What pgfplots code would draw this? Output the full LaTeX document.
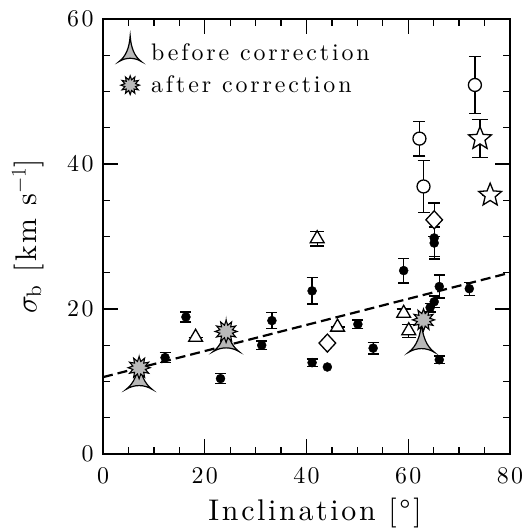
\RequirePackage{fix-cm}
\documentclass[border=0pt]{standalone}
\usepackage{fontspec}
\setmainfont{lmroman10-regular.otf}[ItalicFont=lmroman10-italic.otf, BoldFont=lmroman10-bold.otf]
\usepackage{pgfplots}
\pgfplotsset{compat=1.18}

\pgfdeclareplotmark{tristar}{%
 \pgfpathmoveto{\pgfpoint{0bp}{20bp}}%
 \pgfpathcurveto{\pgfpoint{-1bp}{6bp}}{\pgfpoint{-5bp}{-4bp}}{\pgfpoint{-13bp}{-10bp}}%
 \pgfpathcurveto{\pgfpoint{-5bp}{-5bp}}{\pgfpoint{5bp}{-5bp}}{\pgfpoint{13bp}{-10bp}}%
 \pgfpathcurveto{\pgfpoint{5bp}{-4bp}}{\pgfpoint{1bp}{6bp}}{\pgfpoint{0bp}{20bp}}%
 \pgfpathclose
 \pgfusepathqfillstroke}

\pgfdeclareplotmark{burst}{%
 \pgfpathmoveto{\pgfpointpolar{90}{11bp}}%
 \pgfpathlineto{\pgfpointpolar{105}{6.5bp}}\pgfpathlineto{\pgfpointpolar{120}{11bp}}%
 \pgfpathlineto{\pgfpointpolar{135}{6.5bp}}\pgfpathlineto{\pgfpointpolar{150}{11bp}}%
 \pgfpathlineto{\pgfpointpolar{165}{6.5bp}}\pgfpathlineto{\pgfpointpolar{180}{11bp}}%
 \pgfpathlineto{\pgfpointpolar{195}{6.5bp}}\pgfpathlineto{\pgfpointpolar{210}{11bp}}%
 \pgfpathlineto{\pgfpointpolar{225}{6.5bp}}\pgfpathlineto{\pgfpointpolar{240}{11bp}}%
 \pgfpathlineto{\pgfpointpolar{255}{6.5bp}}\pgfpathlineto{\pgfpointpolar{270}{11bp}}%
 \pgfpathlineto{\pgfpointpolar{285}{6.5bp}}\pgfpathlineto{\pgfpointpolar{300}{11bp}}%
 \pgfpathlineto{\pgfpointpolar{315}{6.5bp}}\pgfpathlineto{\pgfpointpolar{330}{11bp}}%
 \pgfpathlineto{\pgfpointpolar{345}{6.5bp}}\pgfpathlineto{\pgfpointpolar{0}{11bp}}%
 \pgfpathlineto{\pgfpointpolar{15}{6.5bp}}\pgfpathlineto{\pgfpointpolar{30}{11bp}}%
 \pgfpathlineto{\pgfpointpolar{45}{6.5bp}}\pgfpathlineto{\pgfpointpolar{60}{11bp}}%
 \pgfpathlineto{\pgfpointpolar{75}{6.5bp}}%
 \pgfpathclose
 \pgfusepathqfillstroke}

\pgfdeclareplotmark{ostar}{%
 \pgfpathmoveto{\pgfpointpolar{90}{12bp}}%
 \pgfpathlineto{\pgfpointpolar{126}{5.3bp}}\pgfpathlineto{\pgfpointpolar{162}{12bp}}%
 \pgfpathlineto{\pgfpointpolar{198}{5.3bp}}\pgfpathlineto{\pgfpointpolar{234}{12bp}}%
 \pgfpathlineto{\pgfpointpolar{270}{5.3bp}}\pgfpathlineto{\pgfpointpolar{306}{12bp}}%
 \pgfpathlineto{\pgfpointpolar{342}{5.3bp}}\pgfpathlineto{\pgfpointpolar{18}{12bp}}%
 \pgfpathlineto{\pgfpointpolar{54}{5.3bp}}%
 \pgfpathclose
 \pgfusepathqfillstroke}

\pgfdeclareplotmark{odiam}{%
 \pgfpathmoveto{\pgfpoint{0bp}{9bp}}%
 \pgfpathlineto{\pgfpoint{8.3bp}{0bp}}%
 \pgfpathlineto{\pgfpoint{0bp}{-9bp}}%
 \pgfpathlineto{\pgfpoint{-8.3bp}{0bp}}%
 \pgfpathclose
 \pgfusepathqfillstroke}

% filled circles with error bars
\pgfplotstableread{
x y e
12.2 13.3 0.7
16.3 18.9 0.7
23.1 10.4 0.7
31.2 15.0 0.6
33.2 18.4 1.1
41.1 22.5 1.8
41.1 12.6 0.5
50.1 17.9 0.6
53.1 14.6 0.8
59.1 25.3 1.7
64.3 20.2 0.6
65.1 21.0 0.8
65.1 29.8 2.6
65.1 29.1 2.2
66.1 23.1 1.6
72.0 22.8 0.9
66.1 13.0 0.5
}\filledtab
\pgfplotstableread{
x y e
18.2 16.1 0
42.1 29.7 1.0
46.1 17.5 0
59.1 19.4 0.6
60.1 17.0 0.9
}\tritab
\pgfplotstableread{
x y e
62.2 43.5 2.4
63.0 36.9 3.6
73.1 50.9 3.9
}\circtab
\pgfplotstableread{
x y e
44.1 15.3 0
65.1 32.3 2.3
}\diamtab

\begin{document}
\begin{tikzpicture}
\begin{axis}[
  scale only axis, width=407bp, height=435bp,
  xmin=0, xmax=80, ymin=0, ymax=60,
  xtick={0,20,40,60,80}, ytick={0,20,40,60},
  minor x tick num=3, minor y tick num=3,
  tick align=inside, major tick length=15bp, minor tick length=7bp,
  axis line style={line width=1.5bp},
  every tick/.style={line width=1.3bp, black},
  /pgf/number format/assume math mode=true,
  tick label style={font=\fontsize{24}{24}\selectfont\addfontfeature{LetterSpace=10}},
  xticklabel style={yshift=-10bp},
  yticklabel style={xshift=-6bp},
  xlabel={Inclination [°]},
  ylabel={$\sigma_{\mathrm{b}}$ [km s$^{-1}$]},
  label style={font=\fontsize{30}{30}\selectfont\addfontfeature{LetterSpace=9}},
  xlabel style={at={(axis description cs:0.521,0)}, anchor=base, yshift=-66bp},
  ylabel style={at={(axis description cs:-0.184,0.5)}, anchor=center},
  clip=false,
  legend style={at={(axis description cs:0.027,0.966)}, anchor=north west, draw=none, fill=none,
     font=\fontsize{24}{24}\selectfont\addfontfeature{LetterSpace=12}, row sep=10bp,
     nodes={inner sep=1bp}},
  legend cell align=left,
  legend image code/.code={\path[draw=none, fill=none] (-13bp,-10bp) rectangle (20bp,12bp);
     \draw[#1] plot coordinates {(0bp,0bp)};},
]
\addlegendimage{only marks, mark=tristar, mark options={scale=0.85, fill=gray!55, draw=black, line width=1.2bp}}
\addlegendentry{before correction}
\addlegendimage{only marks, mark=burst, mark options={scale=0.85, fill=gray!55, draw=black, line width=1.1bp}}
\addlegendentry{after correction}

\addplot[black, line width=2.2bp, dash pattern=on 10bp off 5bp, forget plot] coordinates {(0,10.6) (80,25)};

\addplot[only marks, mark=*, mark size=4.5bp, black, forget plot,
  error bars/.cd, y dir=both, y explicit,
  error bar style={line width=1.3bp},
  error mark options={rotate=90, mark size=5.5bp, line width=1.3bp}]
  table[x=x, y=y, y error=e] {\filledtab};
\addplot[only marks, mark=*, mark size=4.5bp, black, forget plot] coordinates {(44.1,12.0)};

\addplot[only marks, mark=triangle*, mark size=8bp, black, mark options={fill=white, line width=1.3bp}, forget plot,
  error bars/.cd, y dir=both, y explicit,
  error bar style={line width=1.3bp},
  error mark options={rotate=90, mark size=7bp, line width=1.3bp}]
  table[x=x, y=y, y error=e] {\tritab};

\addplot[only marks, mark=*, mark size=6.5bp, black, mark options={fill=white, line width=1.3bp}, forget plot,
  error bars/.cd, y dir=both, y explicit,
  error bar style={line width=1.3bp},
  error mark options={rotate=90, mark size=6bp, line width=1.3bp}]
  table[x=x, y=y, y error=e] {\circtab};

\addplot[only marks, mark=odiam, black, mark options={fill=white, line width=1.3bp}, forget plot,
  error bars/.cd, y dir=both, y explicit,
  error bar style={line width=1.3bp},
  error mark options={rotate=90, mark size=6bp, line width=1.3bp}]
  table[x=x, y=y, y error=e] {\diamtab};

\addplot[only marks, mark=ostar, black, mark options={fill=white, line width=1.3bp}, forget plot,
  error bars/.cd, y dir=both, y explicit,
  error bar style={line width=1.3bp},
  error mark options={rotate=90, mark size=8bp, line width=1.3bp}]
  table[x=x, y=y, y error=e] {
x y e
74.1 43.5 2.65
76.1 35.7 0
};

\addplot[only marks, mark=tristar, black, mark options={fill=gray!55, draw=black, line width=1.2bp}, forget plot]
  coordinates {(7.1,10.3) (24.2,15.5) (62.6,15.4)};
\addplot[only marks, mark=burst, black, mark options={fill=gray!55, draw=black, line width=1.1bp}, forget plot]
  coordinates {(7.1,11.9) (24.2,16.9) (63.0,18.5)};
\end{axis}
\pgfresetboundingbox
\path ([shift={(-103bp,-77bp)}]current axis.south west) rectangle ([shift={(15bp,19bp)}]current axis.north east);
\end{tikzpicture}
\end{document}
